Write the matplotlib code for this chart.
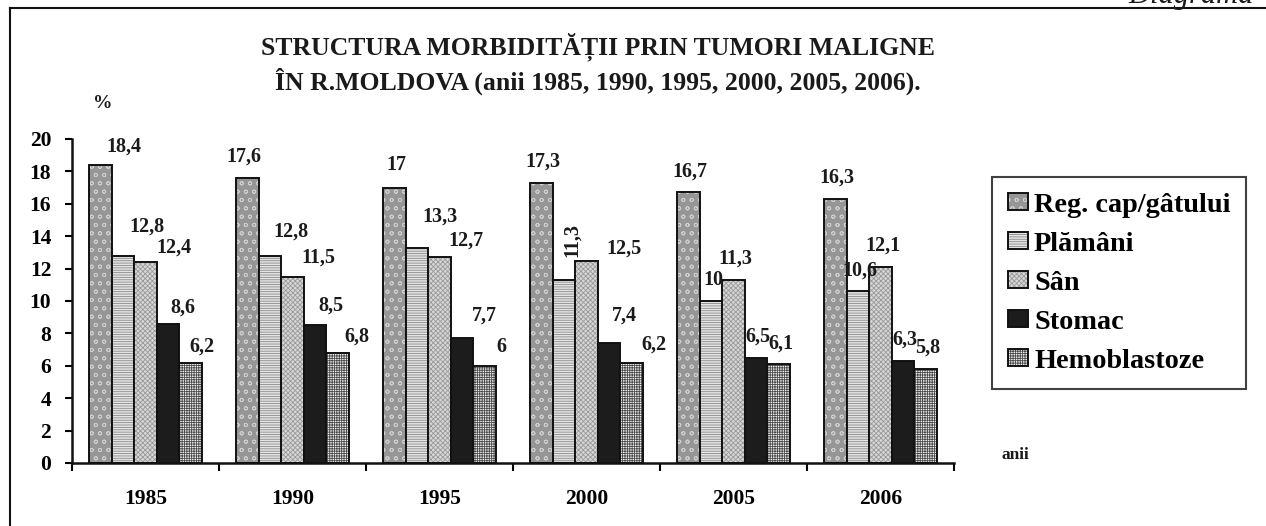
import matplotlib
matplotlib.use("Agg")
import matplotlib.pyplot as plt
import numpy as np
from matplotlib.legend_handler import HandlerTuple
from matplotlib.lines import Line2D

plt.rcParams['font.family'] = ['Liberation Serif', 'DejaVu Serif']
plt.rcParams['font.weight'] = 'bold'
plt.rcParams['hatch.linewidth'] = 0.6

# date
ani = ["1985", "1990", "1995", "2000", "2005", "2006"]
serii = ["Reg. cap/gâtului", "Plămâni", "Sân", "Stomac", "Hemoblastoze"]
cap_gat = [18.4, 17.6, 17.0, 17.3, 16.7, 16.3]
plamani = [12.8, 12.8, 13.3, 11.3, 10.0, 10.6]
san = [12.4, 11.5, 12.7, 12.5, 11.3, 12.1]
stomac = [8.6, 8.5, 7.7, 7.4, 6.5, 6.3]
hemoblastoze = [6.2, 6.8, 6.0, 6.2, 6.1, 5.8]
valori = [cap_gat, plamani, san, stomac, hemoblastoze]

# stiluri: (culoare fundal, hasura, culoare hasura)
stiluri = [
    ("#969696", "oo", "#cfcfcf"),
    ("#e4e4e4", "-------", "#8a8a8a"),
    ("#d6d6d6", "xxxxxxx", "#9a9a9a"),
    ("#1c1c1c", "", "#1c1c1c"),
    ("#f2f2f2", "+++++++", "#4a4a4a"),
]

# deplasari etichete (pixeli) fata de pozitia implicita (+2, 21)
deplasari = {
    (0, 0): (24, 18), (0, 1): (24, 29), (0, 2): (28, 15), (0, 3): (15, 16), (0, 4): (11, 16),
    (1, 0): (-3, 21), (1, 1): (21, 24), (1, 2): (26, 19), (1, 3): (16, 20), (1, 4): (19, 16),
    (2, 0): (2, 23), (2, 1): (23, 31), (2, 2): (26, 17), (2, 3): (22, 23), (2, 4): (17, 19),
    (3, 2): (37, 12), (3, 3): (15, 28), (3, 4): (22, 18),
}

W, H = 1266, 526
fig = plt.figure(figsize=(W / 100, H / 100), dpi=100)
ax = fig.add_axes([72 / W, 1 - 463 / H, (954 - 72) / W, (463 - 139) / H])

x = np.arange(len(ani)) + 0.5
lat = 0.1537
handles = []
for j, (nume, v) in enumerate(zip(serii, valori)):
    fc, hatch, hc = stiluri[j]
    pos = x + (j - 2) * lat
    b1 = ax.bar(pos, v, lat, color=fc, hatch=hatch, edgecolor=hc, linewidth=0)
    b2 = ax.bar(pos, v, lat, facecolor="none", edgecolor="#111111", linewidth=1.4)
    handles.append((b1, b2))
    for i, val in enumerate(v):
        txt = ("%g" % val).replace(".", ",")
        if (i, j) == (3, 1):
            ax.annotate(txt, (pos[i], val), xytext=(8, 40), textcoords="offset pixels",
                        ha="center", va="center", rotation=90, fontsize=14.5,
                        color="#1a1a1a")
            continue
        dx, dy = deplasari.get((i, j), (2, 21))
        ax.annotate(txt, (pos[i], val), xytext=(dx, dy), textcoords="offset pixels",
                    ha="center", va="center", fontsize=14.5, color="#1a1a1a")

ax.set_xlim(0, len(ani))
ax.set_ylim(0, 20)
ax.set_yticks(np.arange(0, 21, 2))
ax.set_xticks(np.arange(0, len(ani) + 1))
ax.set_xticklabels([])
ax.set_xticks(x, minor=True)
ax.set_xticklabels(ani, minor=True, fontsize=15.5)
ax.tick_params(axis="x", which="major", direction="out", length=6, width=1.5)
ax.tick_params(axis="x", which="minor", length=0, pad=19)
ax.tick_params(axis="y", direction="out", length=5, width=1.5, pad=10, labelsize=15.5)
for s in ["top", "right"]:
    ax.spines[s].set_visible(False)
for s in ["left", "bottom"]:
    ax.spines[s].set_linewidth(1.8)
    ax.spines[s].set_color("#111111")

fig.text(598 / W, 1 - 64 / H,
         "STRUCTURA MORBIDITĂȚII PRIN TUMORI MALIGNE\nÎN R.MOLDOVA (anii 1985, 1990, 1995, 2000, 2005, 2006).",
         ha="center", va="center", fontsize=18.5, linespacing=1.3, color="#1a1a1a")
fig.text(103 / W, 1 - 103 / H, "%", ha="center", va="center", fontsize=14, color="#1a1a1a")
fig.text(1015 / W, 1 - 455 / H, "anii", ha="center", va="center", fontsize=12.5, color="#1a1a1a")
fig.text(1128 / W, 1 - 3 / H, "Diagrama", ha="left", va="baseline", fontsize=22,
         style="italic", weight="normal", color="#1a1a1a")

# cadru exterior
fig.add_artist(Line2D([10 / W, 1.0], [1 - 8 / H, 1 - 8 / H], color="#111111", lw=1.5))
fig.add_artist(Line2D([10 / W, 10 / W], [0, 1 - 8 / H], color="#111111", lw=1.5))

leg = fig.legend(handles, serii, loc="upper left", bbox_to_anchor=(992 / W, 1 - 177 / H),
                 handler_map={tuple: HandlerTuple(ndivide=1, pad=0)},
                 fontsize=20.3, frameon=True, fancybox=False, handlelength=0.72,
                 handleheight=0.55, handletextpad=0.22, labelspacing=0.5,
                 borderpad=0.55, borderaxespad=0)
leg.get_frame().set_edgecolor("#111111")
leg.get_frame().set_linewidth(1.5)

fig.savefig("out.png", dpi=100)
